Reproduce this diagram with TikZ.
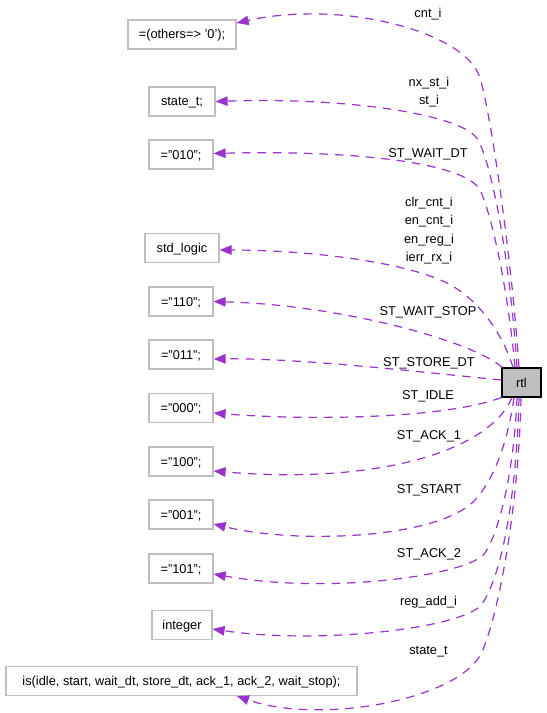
\documentclass[tikz,border=0pt]{standalone}
\usepackage{fontspec}
\setmainfont{Liberation Sans}
\usetikzlibrary{arrows.meta,calc}
\definecolor{edgecol}{RGB}{154,50,205}
\definecolor{boxgray}{RGB}{191,191,191}
\tikzset{
  typebox/.style={draw=boxgray, line width=1.2bp, rectangle, inner sep=0pt, minimum height=29bp, text height=9bp, text depth=0pt, font=\fontsize{12.8bp}{15bp}\selectfont},
  mainbox/.style={draw=black, fill=boxgray, line width=1.2bp, rectangle, inner sep=0pt, minimum width=39bp, minimum height=29bp, text height=9bp, text depth=0pt, font=\fontsize{12.8bp}{15bp}\selectfont},
  elabel/.style={inner sep=0pt, align=center, text height=9bp, text depth=0pt, font=\fontsize{12.8bp}{18.3bp}\selectfont},
  mlabel/.style={inner sep=0pt, align=center, font=\fontsize{12.8bp}{18.3bp}\selectfont},
  uses/.style={draw=edgecol, line width=1.2bp, dash pattern=on 8.5bp off 7bp, -{Triangle[length=12bp,width=9.5bp]}},
}
\begin{document}
\begin{tikzpicture}[x=1bp,y=-1bp]
\useasboundingbox (0,0) rectangle (547,713);
% nodes
\node[mainbox] (rtl) at (521.5,382.5) {rtl};
\node[typebox, minimum width=108bp] (others) at (182,34.5) {=(others=> '0');};
\node[typebox, minimum width=66bp] (statet) at (182,101.5) {state\_t;};
\node[typebox, minimum width=64bp] (v010) at (181,154.5) {="010";};
\node[typebox, minimum width=74bp] (stdlogic) at (182,248) {std\_logic};
\node[typebox, minimum width=64bp] (v110) at (181,301.5) {="110";};
\node[typebox, minimum width=64bp] (v011) at (181,354.5) {="011";};
\node[typebox, minimum width=64bp] (v000) at (181,408) {="000";};
\node[typebox, minimum width=64bp] (v100) at (181,461.5) {="100";};
\node[typebox, minimum width=64bp] (v001) at (181,514.5) {="001";};
\node[typebox, minimum width=64bp] (v101) at (181,568.5) {="101";};
\node[typebox, minimum width=60bp] (integer) at (182,625) {integer};
\node[typebox, minimum width=351bp] (enum) at (181.5,681) {is(idle, start, wait\_dt, store\_dt, ack\_1, ack\_2, wait\_stop);};
% labels
\node[elabel] (l1) at (428,13) {cnt\_i};
\node[mlabel] (l2) at (429,92) {nx\_st\_i\\st\_i};
\node[elabel] (l3) at (428,153) {ST\_WAIT\_DT};
\node[mlabel] (l4) at (429,230.5) {clr\_cnt\_i\\en\_cnt\_i\\en\_reg\_i\\ierr\_rx\_i};
\node[elabel] (l5) at (428,311) {ST\_WAIT\_STOP};
\node[elabel] (l6) at (429,362) {ST\_STORE\_DT};
\node[elabel] (l7) at (428,395) {ST\_IDLE};
\node[elabel] (l8) at (429,435) {ST\_ACK\_1};
\node[elabel] (l9) at (429,489) {ST\_START};
\node[elabel] (l10) at (429,553) {ST\_ACK\_2};
\node[elabel] (l11) at (428.5,600.5) {reg\_add\_i};
\node[elabel] (l12) at (428.5,650) {state\_t};
% edges
\draw[uses] ($(rtl.north)+(-2.5,0)$) .. controls (512,260) and (489,97) .. (478,73)
  .. controls (458,30) and (340,0) .. ($(others.east)+(0,-11.5)$);
\draw[uses] ($(rtl.north)+(-4.5,0)$) .. controls (510,260) and (492,165) .. (478,140)
  .. controls (465,115) and (350,97) .. (statet.east);
\draw[uses] ($(rtl.north)+(-6.5,0)$) .. controls (508,290) and (492,215) .. (480,190)
  .. controls (465,162) and (350,150) .. ($(v010.east)+(0,-1)$);
\draw[uses] ($(rtl.north)+(-8.5,0)$) .. controls (503,335) and (480,300) .. (447,283)
  .. controls (400,260) and (300,250) .. ($(stdlogic.east)+(0,2)$);
\draw[uses] ($(rtl.north west)+(1,0)$) .. controls (470,340) and (340,305) .. (v110.east);
\draw[uses] ($(rtl.west)+(0,-2.5)$) .. controls (420,372) and (300,358) .. ($(v011.east)+(0,4.5)$);
\draw[uses] (rtl.south west) .. controls (440,420) and (300,420) .. ($(v000.east)+(0,5)$);
\draw[uses] ($(rtl.south)+(-9.5,0)$) .. controls (490,450) and (380,485) .. ($(v100.east)+(0,9.5)$);
\draw[uses] ($(rtl.south)+(-7.5,0)$) .. controls (508,440) and (495,478) .. (475,500)
  .. controls (440,538) and (300,545) .. ($(v001.east)+(0,9.5)$);
\draw[uses] ($(rtl.south)+(-4.5,0)$) .. controls (514,470) and (500,530) .. (485,553)
  .. controls (470,575) and (330,595) .. ($(v101.east)+(0,5.5)$);
\draw[uses] ($(rtl.south)+(-2.5,0)$) .. controls (517,480) and (505,570) .. (482,604)
  .. controls (465,628) and (320,645) .. ($(integer.east)+(0,4)$);
\draw[uses] ($(rtl.south)+(-0.5,0)$) .. controls (519,500) and (500,610) .. (482,652)
  .. controls (460,700) and (320,725) .. ($(enum.south)+(55.5,0)$);
\end{tikzpicture}
\end{document}
